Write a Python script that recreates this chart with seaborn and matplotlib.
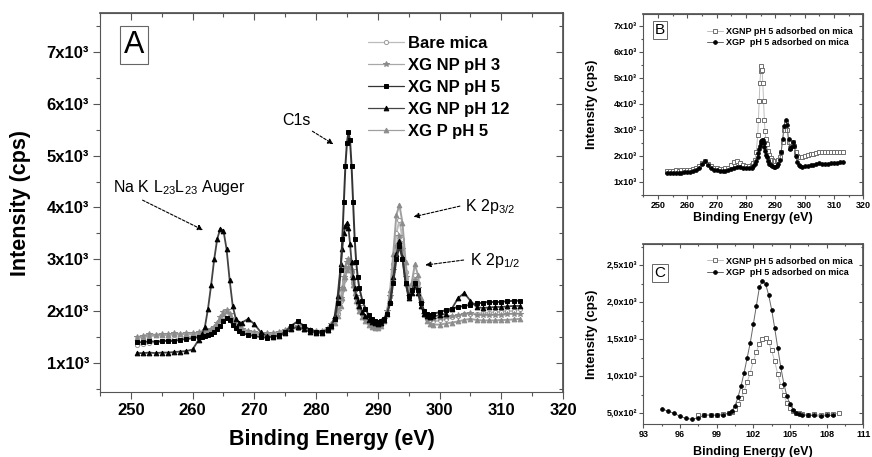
import matplotlib
matplotlib.use("Agg")
import matplotlib.pyplot as plt
import seaborn as sns
from matplotlib.ticker import MultipleLocator
from matplotlib.lines import Line2D

# ---------------- Panel A: survey region, five samples ----------------
XA = [251, 252, 253, 254, 255, 256, 257, 258, 259, 260, 261,
      261.5, 262, 262.5, 263, 263.5, 264, 264.5, 265, 265.5, 266, 266.5, 267, 267.5, 268,
      269, 270, 271, 272, 273, 274, 275, 276, 277, 278, 279, 280, 281, 282,
      282.5, 283, 283.5, 284, 284.25, 284.5, 284.75, 285, 285.25, 285.5, 285.75, 286,
      286.25, 286.5, 286.75, 287, 287.5, 288, 288.5, 289, 289.5, 290, 290.5, 291, 291.5,
      292, 292.5, 293, 293.5, 294, 294.5, 295, 295.5, 296, 296.5, 297, 297.5, 298, 298.5, 299,
      300, 301, 302, 303, 304, 305, 306, 307, 308, 309, 310, 311, 312, 313]

BARE_MICA = [1350, 1360, 1380, 1400, 1420, 1440, 1460, 1480, 1500, 1520, 1540,
             1550, 1560, 1580, 1600, 1650, 1720, 1820, 1900, 1950, 1880, 1780, 1700, 1650, 1620,
             1580, 1560, 1540, 1540, 1550, 1560, 1600, 1650, 1680, 1650, 1620, 1600, 1600, 1650,
             1700, 1800, 1950, 2200, 2400, 2600, 2800, 2900, 2950, 2900, 2750, 2550,
             2400, 2250, 2150, 2050, 1950, 1850, 1780, 1730, 1700, 1700, 1730, 1800, 1950,
             2300, 2900, 3500, 3750, 3400, 2750, 2350, 2450, 2700, 2550, 2200, 1950, 1850, 1800, 1800,
             1820, 1850, 1880, 1900, 1950, 1950, 1950, 1960, 1970, 1980, 1990, 2000, 2000, 2050]

NP_PH3 = [1500, 1520, 1560, 1540, 1560, 1550, 1570, 1560, 1580, 1570, 1590,
          1600, 1600, 1620, 1650, 1700, 1780, 1880, 1980, 2020, 1950, 1830, 1740, 1680, 1650,
          1620, 1600, 1580, 1570, 1580, 1600, 1640, 1700, 1720, 1680, 1640, 1620, 1620, 1680,
          1750, 1850, 2000, 2250, 2450, 2650, 2850, 2950, 3000, 2950, 2800, 2600,
          2450, 2300, 2200, 2100, 1980, 1880, 1820, 1780, 1750, 1750, 1780, 1850, 2000,
          2300, 2800, 3250, 3450, 3200, 2650, 2300, 2400, 2600, 2450, 2150, 1950, 1880, 1850, 1850,
          1870, 1890, 1900, 1920, 1950, 1960, 1930, 1920, 1920, 1930, 1930, 1940, 1950, 1950]

NP_PH5 = [1400, 1400, 1420, 1410, 1420, 1430, 1420, 1450, 1460, 1480, 1500,
          1510, 1520, 1540, 1560, 1600, 1650, 1720, 1800, 1860, 1820, 1740, 1680, 1620, 1580,
          1540, 1520, 1500, 1490, 1510, 1530, 1600, 1720, 1800, 1720, 1640, 1600, 1600, 1650,
          1720, 1850, 2150, 2800, 3400, 4100, 4800, 5250, 5450, 5300, 4800, 4100,
          3400, 2950, 2650, 2450, 2200, 2050, 1920, 1850, 1800, 1790, 1800, 1850, 1950,
          2150, 2550, 3000, 3250, 3000, 2550, 2300, 2400, 2550, 2400, 2150, 2000, 1950, 1930, 1950,
          1980, 2020, 2050, 2080, 2100, 2120, 2150, 2160, 2180, 2170, 2180, 2190, 2200, 2200]

NP_PH12 = [1190, 1190, 1200, 1190, 1200, 1200, 1210, 1220, 1230, 1260, 1450,
           1550, 1700, 2050, 2500, 3000, 3400, 3590, 3550, 3200, 2600, 2100, 1850, 1780, 1780,
           1850, 1750, 1600, 1520, 1500, 1520, 1580, 1650, 1700, 1650, 1600, 1580, 1580, 1640,
           1720, 1900, 2300, 2900, 3200, 3500, 3650, 3700, 3600, 3300, 2950, 2650,
           2450, 2300, 2200, 2100, 1980, 1900, 1830, 1790, 1770, 1760, 1780, 1830, 1950,
           2200, 2650, 3100, 3350, 3050, 2550, 2250, 2350, 2500, 2350, 2100, 1950, 1900, 1880, 1900,
           1920, 1950, 2050, 2250, 2350, 2200, 2080, 2060, 2070, 2080, 2080, 2090, 2100, 2100]

P_PH5 = [1480, 1500, 1520, 1530, 1530, 1540, 1550, 1550, 1560, 1560, 1570,
         1580, 1580, 1600, 1630, 1680, 1750, 1850, 1950, 2000, 1920, 1800, 1720, 1660, 1630,
         1600, 1580, 1560, 1550, 1560, 1580, 1620, 1680, 1700, 1660, 1620, 1600, 1600, 1640,
         1700, 1780, 1900, 2100, 2250, 2450, 2650, 2800, 2850, 2850, 2700, 2500,
         2350, 2200, 2100, 2000, 1880, 1800, 1740, 1700, 1680, 1680, 1720, 1800, 2000,
         2400, 3100, 3850, 4050, 3700, 2950, 2450, 2550, 2900, 2700, 2250, 1950, 1800, 1750, 1740,
         1740, 1760, 1780, 1800, 1830, 1850, 1830, 1820, 1820, 1820, 1830, 1830, 1840, 1850]

LABELS_A = ["Bare mica", "XG NP pH 3", "XG NP pH 5", "XG NP pH 12", "XG P pH 5"]

# ---------------- Panel B: adsorbed films, same window ----------------
XB = [253, 254, 255, 256, 257, 258, 259, 260, 261, 262, 263, 264, 265, 266, 267, 268,
      269, 270, 271, 272, 273, 274, 275, 276, 277, 278, 279, 280, 281, 282,
      282.5, 283, 283.5, 284, 284.25, 284.5, 284.75, 285, 285.25, 285.5, 285.75, 286,
      286.25, 286.5, 286.75, 287, 287.5, 288, 288.5, 289, 289.5, 290, 290.5, 291, 291.5,
      292, 292.5, 293, 293.5, 294, 294.5, 295, 295.5, 296, 296.5, 297, 297.5, 298, 298.5, 299,
      300, 301, 302, 303, 304, 305, 306, 307, 308, 309, 310, 311, 312, 313]

B_XGNP = [1430, 1440, 1440, 1450, 1440, 1450, 1460, 1470, 1480, 1500, 1520, 1600, 1720, 1800, 1700, 1600,
          1540, 1520, 1500, 1500, 1520, 1550, 1650, 1760, 1800, 1740, 1660, 1620, 1620, 1660,
          1720, 1850, 2150, 2800, 3400, 4100, 4800, 5250, 5450, 5300, 4800, 4100,
          3400, 2950, 2650, 2450, 2200, 2050, 1920, 1850, 1800, 1790, 1800, 1850, 1950,
          2150, 2550, 3000, 3250, 3000, 2550, 2300, 2400, 2550, 2400, 2150, 2000, 1950, 1950, 1980,
          2000, 2030, 2060, 2090, 2120, 2150, 2150, 2140, 2150, 2160, 2150, 2160, 2150, 2140]

B_XGP = [1350, 1330, 1340, 1350, 1340, 1360, 1370, 1380, 1400, 1420, 1460, 1550, 1700, 1800, 1650, 1520,
         1470, 1450, 1440, 1420, 1430, 1450, 1500, 1550, 1580, 1560, 1540, 1520, 1520, 1550,
         1600, 1680, 1800, 1950, 2100, 2250, 2400, 2500, 2580, 2620, 2600, 2500,
         2350, 2200, 2050, 1950, 1800, 1700, 1650, 1600, 1580, 1570, 1600, 1680, 1850,
         2150, 2650, 3150, 3400, 3200, 2650, 2250, 2350, 2550, 2400, 2000, 1750, 1650, 1600, 1580,
         1600, 1620, 1640, 1660, 1700, 1720, 1700, 1700, 1710, 1720, 1730, 1740, 1750, 1760]

# ---------------- Panel C: Si 2p-type region ----------------
XC_P = [94.5, 95, 95.5, 96, 96.5, 97, 97.5, 98, 98.5, 99, 99.5, 100,
        100.25, 100.5, 100.75, 101, 101.25, 101.5, 101.75, 102, 102.25, 102.5, 102.75, 103,
        103.25, 103.5, 103.75, 104, 104.25, 104.5, 104.75, 105, 105.25, 105.5, 105.75, 106,
        106.5, 107, 107.5, 108, 108.5]
C_XGP = [560, 530, 500, 460, 430, 420, 440, 470, 480, 470, 480, 500,
         530, 600, 720, 870, 1050, 1250, 1450, 1700, 1950, 2200, 2290, 2250,
         2100, 1900, 1650, 1380, 1120, 900, 730, 620, 550, 510, 490, 480,
         470, 470, 460, 470, 470]

XC_NP = [97.5, 98, 98.5, 99, 99.5, 100,
         100.25, 100.5, 100.75, 101, 101.25, 101.5, 101.75, 102, 102.25, 102.5, 102.75, 103,
         103.25, 103.5, 103.75, 104, 104.25, 104.5, 104.75, 105, 105.25, 105.5, 105.75, 106,
         106.5, 107, 107.5, 108, 108.5, 109]
C_XGNP = [470, 480, 470, 480, 490, 500,
          520, 560, 620, 700, 800, 920, 1050, 1200, 1330, 1440, 1500, 1510,
          1460, 1350, 1200, 1030, 870, 740, 640, 570, 530, 510, 500, 490,
          480, 490, 480, 490, 490, 500]

LABELS_BC = ["XGNP pH 5 adsorbed on mica", "XGP  pH 5 adsorbed on mica"]

sns.set_theme(style="white")
plt.rcParams["font.family"] = ["Liberation Sans", "DejaVu Sans"]
plt.rcParams["mathtext.default"] = "regular"
for key in ["text.color", "axes.labelcolor", "xtick.labelcolor", "ytick.labelcolor"]:
    plt.rcParams[key] = "black"

SPINE = "#555555"

fig = plt.figure(figsize=(8.72, 4.57), dpi=100)
W, H = 872, 457
axA = fig.add_axes([100 / W, 1 - 392 / H, 463 / W, 379 / H])
axB = fig.add_axes([643.3 / W, 1 - 195 / H, 220 / W, 181 / H])
axC = fig.add_axes([643.3 / W, 1 - 424 / H, 220 / W, 180 / H])


def draw(ax, x, y, st):
    sns.lineplot(x=x, y=y, ax=ax, sort=False, estimator=None, legend=False,
                 color=st["lc"], linewidth=st["lw"], marker=st["m"],
                 markersize=st["ms"], markerfacecolor=st["fc"],
                 markeredgecolor=st["ec"], markeredgewidth=0.7)


def handle(st):
    return Line2D([], [], color=st["lc"], lw=min(st["lw"], 0.9), marker=st["m"],
                  markersize=st["ms"], markerfacecolor=st["fc"],
                  markeredgecolor=st["ec"], markeredgewidth=0.7)


def frame(ax, xmaj, xmin, yticks, ylabels, ymin, tsize, big):
    for s in ax.spines.values():
        s.set_color(SPINE)
        s.set_linewidth(0.8)
    ax.set_yticks(yticks, ylabels)
    ax.xaxis.set_major_locator(MultipleLocator(xmaj))
    ax.xaxis.set_minor_locator(MultipleLocator(xmin))
    ax.yaxis.set_minor_locator(MultipleLocator(ymin))
    L = 5 if big else 3
    ax.tick_params(which="both", direction="out", bottom=True, left=True,
                   top=False, right=False, color=SPINE, width=0.8,
                   labelcolor="black")
    ax.tick_params(which="major", length=L, labelsize=tsize, pad=3 if big else 1.5)
    ax.tick_params(which="minor", length=L * 0.6)
    for lab in ax.get_xticklabels() + ax.get_yticklabels():
        lab.set_fontweight("bold")
    # mirrored inward ticks on the top and right edges
    tx = ax.secondary_xaxis("top")
    tx.xaxis.set_major_locator(MultipleLocator(xmaj))
    tx.xaxis.set_minor_locator(MultipleLocator(xmin))
    tx.tick_params(which="both", direction="in", labeltop=False, color=SPINE, width=0.8)
    tx.tick_params(which="major", length=L)
    tx.tick_params(which="minor", length=L * 0.6)
    tx.spines["top"].set_color(SPINE)
    ty = ax.secondary_yaxis("right")
    ty.set_yticks(yticks)
    ty.yaxis.set_minor_locator(MultipleLocator(ymin))
    ty.tick_params(which="both", direction="in", labelright=False, color=SPINE, width=0.8)
    ty.tick_params(which="major", length=L)
    ty.tick_params(which="minor", length=L * 0.6)
    ty.spines["right"].set_color(SPINE)


# ---- Panel A ----
st_A = [
    dict(lc="#bcbcbc", lw=1.4, m="o", ms=3.0, fc="white", ec="#9a9a9a"),
    dict(lc="#a8a8a8", lw=1.4, m="*", ms=4.0, fc="#8a8a8a", ec="#8a8a8a"),
    dict(lc="#333333", lw=1.4, m="s", ms=3.4, fc="black", ec="black"),
    dict(lc="#444444", lw=1.3, m="^", ms=3.4, fc="black", ec="black"),
    dict(lc="#a0a0a0", lw=1.4, m="^", ms=3.4, fc="#8c8c8c", ec="#8c8c8c"),
]
series_A = [BARE_MICA, NP_PH3, NP_PH5, NP_PH12, P_PH5]
for i in [0, 1, 4, 3, 2]:
    draw(axA, XA, series_A[i], st_A[i])

axA.set_xlim(245, 320)
axA.set_ylim(440, 7750)
frame(axA, 10, 5, [1000, 2000, 3000, 4000, 5000, 6000, 7000],
      [f"{k}x10³" for k in range(1, 8)], 500, 12, True)
axA.set_xlabel("Binding Energy (eV)", fontsize=15.5, fontweight="bold")
axA.set_ylabel("Intensity (cps)", fontsize=15.5, fontweight="bold")
axA.xaxis.set_label_coords(0.5, -0.098)
axA.yaxis.set_label_coords(-0.15, 0.5)

legA = axA.legend([handle(s) for s in st_A], LABELS_A, loc="upper left",
                  bbox_to_anchor=(0.578, 0.94), frameon=False, borderpad=0,
                  borderaxespad=0, handlelength=2.2, handletextpad=0.25,
                  labelspacing=0.42, prop=dict(weight="bold", size=12))

axA.text(0.0734, 0.9156, "A", transform=axA.transAxes, fontsize=22,
         ha="center", va="center",
         bbox=dict(boxstyle="square,pad=0.12", fc="white", ec="#666666", lw=0.8))

arrow = dict(arrowstyle="-|>", color="black", lw=0.8, linestyle=(0, (2.5, 1.5)),
             mutation_scale=8, shrinkA=0, shrinkB=0)
axA.annotate("", xy=(282.8, 5220), xytext=(279.4, 5470), arrowprops=arrow)
axA.text(276.9, 5680, "C1s", fontsize=11.5, ha="center", va="center")
axA.annotate("", xy=(261.7, 3563), xytext=(251.9, 4140), arrowprops=arrow)
axA.text(257.8, 4390, "Na K L$_{23}$L$_{23}$ Auger", fontsize=11.5, ha="center", va="center")
axA.annotate("", xy=(295.8, 3819), xytext=(303.3, 4025), arrowprops=arrow)
axA.text(304.2, 4010, "K 2p$_{3/2}$", fontsize=11.5, ha="left", va="center")
axA.annotate("", xy=(297.7, 2888), xytext=(303.9, 2985), arrowprops=arrow)
axA.text(305.0, 2985, "K 2p$_{1/2}$", fontsize=11.5, ha="left", va="center")

# ---- Panels B and C ----
st_NP = dict(lc="#bdbdbd", lw=0.7, m="s", ms=2.6, fc="white", ec="#6e6e6e")
st_P = dict(lc="#666666", lw=0.7, m="o", ms=2.6, fc="black", ec="black")

draw(axB, XB, B_XGNP, st_NP)
draw(axB, XB, B_XGP, st_P)
axB.set_xlim(245, 320)
axB.set_ylim(500, 7460)
frame(axB, 10, 5, [1000, 2000, 3000, 4000, 5000, 6000, 7000],
      [f"{k}x10³" for k in range(1, 8)], 500, 6.5, False)

draw(axC, XC_NP, C_XGNP, st_NP)
draw(axC, XC_P, C_XGP, st_P)
axC.set_xlim(93, 111)
axC.set_ylim(355, 2785)
frame(axC, 3, 1.5, [500, 1000, 1500, 2000, 2500],
      ["5,0x10²", "1,0x10³", "1,5x10³", "2,0x10³", "2,5x10³"], 250, 6.5, False)

for ax, letter, ly, xl_y in [(axB, "B", 0.9116, -0.094), (axC, "C", 0.839, -0.125)]:
    ax.set_xlabel("Binding Energy (eV)", fontsize=9, fontweight="bold")
    ax.set_ylabel("Intensity (cps)", fontsize=9.5, fontweight="bold")
    ax.xaxis.set_label_coords(0.5, xl_y)
    ax.yaxis.set_label_coords(-0.205, 0.5)
    ax.legend([handle(st_NP), handle(st_P)], LABELS_BC, loc="upper left",
              bbox_to_anchor=(0.29, 0.93), frameon=False, borderpad=0,
              borderaxespad=0, handlelength=1.8, handletextpad=0.3,
              labelspacing=0.25, prop=dict(weight="bold", size=6.5))
    ax.text(0.0759, ly, letter, transform=ax.transAxes, fontsize=11,
            ha="center", va="center",
            bbox=dict(boxstyle="square,pad=0.15", fc="white", ec="#666666", lw=0.7))

fig.savefig("out.png", dpi=100)
